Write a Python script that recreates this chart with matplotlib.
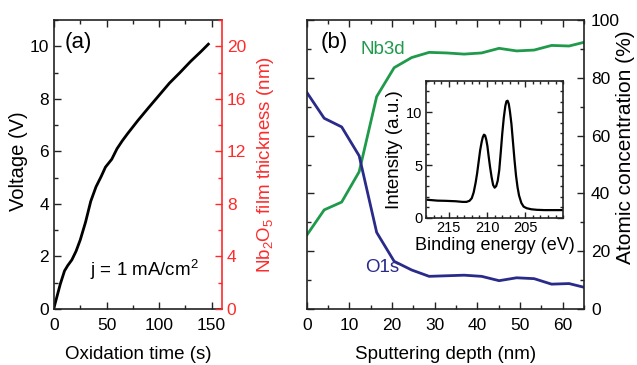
import matplotlib
matplotlib.use("Agg")
import matplotlib.pyplot as plt
from matplotlib.ticker import MultipleLocator, FixedLocator

plt.rcParams['font.family'] = ['Liberation Sans', 'DejaVu Sans']
plt.rcParams['mathtext.fontset'] = 'custom'
plt.rcParams['mathtext.rm'] = 'Liberation Sans'
plt.rcParams['mathtext.it'] = 'Liberation Sans'

# ---- Panel (a) data: anodic oxidation voltage ----
time_s = [0, 3, 6, 10, 13, 17, 21, 25, 30, 35, 40, 45, 49, 52, 55, 60, 65, 70,
          80, 90, 100, 110, 120, 130, 140, 147]
voltage_V = [0.05, 0.5, 0.95, 1.45, 1.65, 1.87, 2.2, 2.63, 3.3, 4.1, 4.65, 5.05,
             5.4, 5.55, 5.7, 6.1, 6.4, 6.67, 7.18, 7.66, 8.13, 8.6, 9.0, 9.42,
             9.8, 10.08]

# ---- Panel (b) data: XPS depth profile ----
depth_nm = [0, 4.1, 8.2, 12.3, 16.4, 20.5, 24.6, 28.7, 32.8, 36.9, 41.0, 45.1,
            49.2, 53.3, 57.4, 61.5, 65.6]
nb3d = [25.5, 34.3, 37.0, 47.5, 73.5, 83.5, 87.0, 88.8, 88.6, 88.2, 88.6, 90.2,
        89.3, 89.6, 91.2, 91.0, 92.5]
o1s = [75.0, 66.0, 63.0, 53.0, 26.5, 16.5, 13.5, 11.3, 11.5, 11.7, 11.3, 9.8,
       10.8, 10.5, 8.6, 8.8, 7.3]

# ---- Inset data: Nb 3d spectrum ----
energy_eV = [217.8, 216.5, 215.4, 214.1, 213.2, 212.7, 212.3, 212.0, 211.75,
             211.5, 211.3, 211.1, 210.9, 210.7, 210.55, 210.4, 210.25, 210.1,
             209.95, 209.8, 209.6, 209.4, 209.2, 209.0, 208.8, 208.6, 208.4,
             208.2, 208.0, 207.8, 207.6, 207.45, 207.3, 207.15, 207.0, 206.8,
             206.6, 206.4, 206.2, 206.0, 205.8, 205.5, 205.2, 204.8, 204.2,
             203.5, 202.5, 201.5, 200.0]
intensity = [1.7, 1.62, 1.6, 1.56, 1.5, 1.5, 1.6, 1.85, 2.4, 3.3, 4.2, 5.3, 6.4,
             7.2, 7.65, 7.88, 7.8, 7.4, 6.8, 5.9, 4.8, 3.85, 3.1, 2.85, 3.0,
             3.5, 4.5, 6.2, 8.0, 9.5, 10.6, 11.05, 11.1, 10.8, 10.1, 8.9, 7.2,
             5.5, 4.0, 2.9, 2.1, 1.4, 1.05, 0.9, 0.8, 0.75, 0.72, 0.72, 0.72]
inset_xticks = [215, 210, 205]

W, H = 637, 365
fig = plt.figure(figsize=(W / 100, H / 100), dpi=100)

TICK_FS = 12.5
XLABEL_FS = 13.5
SPINE = '#222222'
RED = '#ff2a2a'
GREEN = '#1f9a4a'
NAVY = '#2a2a8a'


def rect(l, t, r, b):
    return [l / W, 1 - b / H, (r - l) / W, (b - t) / H]


def style(ax):
    for s in ax.spines.values():
        s.set_linewidth(1.2)
        s.set_color(SPINE)
    ax.tick_params(which='both', direction='in', color=SPINE, width=1.0,
                   labelsize=TICK_FS, top=True)
    ax.tick_params(which='major', length=5)
    ax.tick_params(which='minor', length=3)
    ax.tick_params(axis='x', which='both', pad=6.5)


# ---------- Panel (a) ----------
AL, AT, AR, AB = 54, 20, 222, 309
axa = fig.add_axes(rect(AL, AT, AR, AB))
style(axa)
axa.plot(time_s, voltage_V, color='black', lw=2.0)
axa.set_xlim(0, 160)
axa.set_ylim(0, 11)
axa.xaxis.set_major_locator(MultipleLocator(50))
axa.xaxis.set_minor_locator(MultipleLocator(25))
axa.yaxis.set_major_locator(MultipleLocator(2))
axa.yaxis.set_minor_locator(MultipleLocator(1))
axa.tick_params(axis='y', right=False, which='both')
axa.set_xlabel('Oxidation time (s)', fontsize=XLABEL_FS)
axa.xaxis.set_label_coords(0.5, (AB - 346) / (AB - AT))
axa.set_ylabel('Voltage (V)', fontsize=14.5)
axa.yaxis.set_label_coords((28 - AL) / (AR - AL), 0.51)
axa.spines['right'].set_visible(False)
axa.text((65 - AL) / (AR - AL), (AB - 32) / (AB - AT), '(a)',
         transform=axa.transAxes, fontsize=16, va='top', ha='left')
axa.text((90 - AL) / (AR - AL), (AB - 270) / (AB - AT), 'j = 1 mA/cm$^2$',
         transform=axa.transAxes, fontsize=13.5, va='center', ha='left')

axa2 = axa.twinx()
axa2.set_ylim(0, 22)
for s in axa2.spines.values():
    s.set_visible(False)
axa2.spines['right'].set_visible(True)
axa2.spines['right'].set_color(RED)
axa2.spines['right'].set_linewidth(1.2)
axa2.yaxis.set_major_locator(MultipleLocator(4))
axa2.yaxis.set_minor_locator(MultipleLocator(2))
axa2.tick_params(which='both', direction='in', color=RED, labelcolor=RED,
                 labelsize=TICK_FS, width=1.0)
axa2.tick_params(which='major', length=5)
axa2.tick_params(which='minor', length=3)
axa2.set_ylabel('Nb$_2$O$_5$ film thickness (nm)', color=RED, fontsize=13.5)
axa2.yaxis.set_label_coords((255 - AL) / (AR - AL), 0.5)

# ---------- Panel (b) ----------
BL, BT, BR, BB = 306.7, 20, 584, 309
axb = fig.add_axes(rect(BL, BT, BR, BB))
style(axb)
axb.plot(depth_nm, nb3d, color=GREEN, lw=2.0)
axb.plot(depth_nm, o1s, color=NAVY, lw=2.0)
axb.set_xlim(0, 65)
axb.set_ylim(0, 100)
axb.xaxis.set_major_locator(MultipleLocator(10))
axb.xaxis.set_minor_locator(MultipleLocator(5))
axb.yaxis.set_major_locator(MultipleLocator(20))
axb.yaxis.set_minor_locator(MultipleLocator(10))
axb.tick_params(axis='y', which='both', left=True, right=True,
                labelleft=False, labelright=True, pad=5.0)
axb.yaxis.set_label_position('right')
axb.set_ylabel('Atomic concentration (%)', fontsize=15)
axb.yaxis.set_label_coords((616 - BL) / (BR - BL), 0.56)
axb.set_xlabel('Sputtering depth (nm)', fontsize=XLABEL_FS)
axb.xaxis.set_label_coords(0.5, (BB - 346) / (BB - BT))
axb.text((321 - BL) / (BR - BL), (BB - 32) / (BB - BT), '(b)',
         transform=axb.transAxes, fontsize=16, va='top', ha='left')
axb.text((361 - BL) / (BR - BL), (BB - 50) / (BB - BT), 'Nb3d',
         transform=axb.transAxes, fontsize=13.5, color=GREEN,
         va='center', ha='left')
axb.text((365 - BL) / (BR - BL), (BB - 268) / (BB - BT), 'O1s',
         transform=axb.transAxes, fontsize=13.5, color=NAVY,
         va='center', ha='left')

# ---------- Inset ----------
axi = fig.add_axes(rect(426, 80.7, 563.3, 217.7))
style(axi)
axi.tick_params(which='both', right=True, labelsize=10.5)
axi.tick_params(which='major', length=4, pad=2.5)
axi.tick_params(which='minor', length=2)
axi.plot(energy_eV, intensity, color='black', lw=1.6)
axi.set_xlim(218, 200)
axi.set_ylim(0, 13)
axi.xaxis.set_major_locator(FixedLocator(inset_xticks))
axi.xaxis.set_minor_locator(MultipleLocator(1))
axi.yaxis.set_major_locator(MultipleLocator(5))
axi.yaxis.set_minor_locator(MultipleLocator(1))
axi.set_xlabel('Binding energy (eV)', fontsize=13, labelpad=1)
axi.set_ylabel('Intensity (a.u.)', fontsize=13.5, labelpad=2)

fig.savefig('out.png', dpi=100)
